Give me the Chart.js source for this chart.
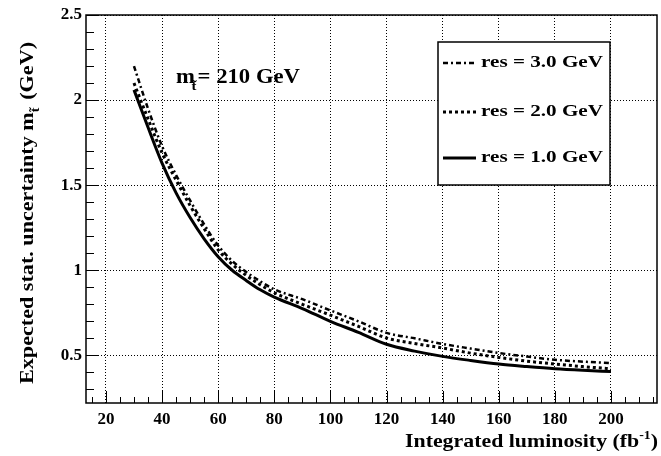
<!DOCTYPE html>
<html>
<head>
<title>Expected stat. uncertainty vs integrated luminosity</title>
<script src="https://cdn.jsdelivr.net/npm/chart.js"></script>
<style>
  html, body { margin: 0; padding: 0; background: #fff; }
  #chart { display: block; }
</style>
</head>
<body>
<canvas id="chart" width="661" height="456"></canvas>
<script>
// values (fb^-1 , GeV)
const lumi = [30, 35, 40, 45, 50, 55, 60, 65, 70, 75, 80, 90, 100, 110, 120, 130, 140, 150, 160, 170, 180, 190, 200];
const res1 = [2.06, 1.84, 1.63, 1.455, 1.31, 1.185, 1.08, 1.00, 0.94, 0.885, 0.842, 0.775, 0.70, 0.635, 0.565, 0.525, 0.494, 0.47, 0.449, 0.434, 0.421, 0.412, 0.405];
const res2 = [2.10, 1.89, 1.69, 1.53, 1.38, 1.245, 1.12, 1.035, 0.97, 0.915, 0.868, 0.80, 0.736, 0.67, 0.602, 0.57, 0.543, 0.513, 0.488, 0.466, 0.449, 0.434, 0.421];
const res3 = [2.20, 1.95, 1.73, 1.56, 1.41, 1.27, 1.145, 1.055, 0.99, 0.935, 0.888, 0.83, 0.764, 0.70, 0.632, 0.60, 0.567, 0.54, 0.514, 0.493, 0.474, 0.463, 0.455];
const seriesNames = ['res = 1.0 GeV', 'res = 2.0 GeV', 'res = 3.0 GeV'];

const xTickValues = [20, 40, 60, 80, 100, 120, 140, 160, 180, 200];
const yTickValues = [0.5, 1, 1.5, 2, 2.5];

const FONT = '"Liberation Serif", "Times New Roman", serif';
const pts = ys => lumi.map((x, i) => ({ x: x, y: ys[i] }));

// draws a row of text pieces (for sub/superscripts), stretched a bit wider like the original
function drawRuns(ctx, runs, x, y, o) {
  ctx.save();
  ctx.translate(x, y);
  if (o.rotate) ctx.rotate(o.rotate);
  const widths = runs.map(r => {
    ctx.font = 'bold ' + r.s + 'px ' + FONT;
    return ctx.measureText(r.t).width + (r.dx || 0);
  });
  const w = widths.reduce((a, b) => a + b, 0);
  const sx = o.width ? o.width / w : 1.2;
  ctx.scale(sx, 1);
  let cx = o.align === 'right' ? -w : 0;
  ctx.fillStyle = '#000';
  ctx.textBaseline = o.baseline || 'alphabetic';
  runs.forEach((r, i) => {
    ctx.font = 'bold ' + r.s + 'px ' + FONT;
    ctx.fillText(r.t, cx + (r.dx || 0), r.dy || 0);
    cx += widths[i];
  });
  ctx.restore();
}

const decorations = {
  id: 'decorations',
  afterDatasetsDraw(chart) {
    const { ctx, chartArea: a, scales: { x, y } } = chart;
    ctx.save();
    ctx.strokeStyle = '#000';
    ctx.lineWidth = 1;
    ctx.setLineDash([]);
    // inward ticks like the original
    ctx.beginPath();
    for (let v = 15; v <= 215; v += 5) {
      const px = Math.round(x.getPixelForValue(v)) + 0.5;
      ctx.moveTo(px, a.bottom);
      ctx.lineTo(px, a.bottom - (v % 20 === 0 ? 12 : 6));
    }
    for (let i = 3; i <= 25; i++) {
      const py = Math.round(y.getPixelForValue(i / 10)) + 0.5;
      ctx.moveTo(a.left, py);
      ctx.lineTo(a.left + (i % 5 === 0 ? 13 : 8), py);
    }
    ctx.stroke();
    ctx.lineWidth = 1.5;
    ctx.strokeRect(a.left, a.top, a.right - a.left, a.bottom - a.top);

    // legend box
    const box = { l: 438, t: 42, r: 610, b: 185 };
    ctx.fillStyle = '#fff';
    ctx.fillRect(box.l, box.t, box.r - box.l, box.b - box.t);
    ctx.strokeRect(box.l, box.t, box.r - box.l, box.b - box.t);
    const rows = [{ ds: 2, y: 63 }, { ds: 1, y: 112 }, { ds: 0, y: 158 }];
    rows.forEach(row => {
      const d = chart.data.datasets[row.ds];
      ctx.save();
      ctx.lineWidth = d.borderWidth;
      ctx.setLineDash(d.borderDash || []);
      ctx.beginPath();
      ctx.moveTo(443, row.y);
      ctx.lineTo(476, row.y);
      ctx.stroke();
      ctx.restore();
      drawRuns(ctx, [{ t: d.label, s: 17 }], 481, row.y, { baseline: 'middle', width: 122 });
    });

    // m(stop) = 210 GeV
    drawRuns(ctx, [
      { t: 'm', s: 20 },
      { t: 't\u0303', s: 13, dy: 7, dx: -3 },
      { t: '= 210 GeV', s: 20, dx: 1 }
    ], 176, 83, { width: 124 });

    // axis titles
    drawRuns(ctx, [
      { t: 'Integrated luminosity (fb', s: 19 },
      { t: '-1', s: 12, dy: -8 },
      { t: ')', s: 19 }
    ], 658, 447, { align: 'right', width: 253 });
    drawRuns(ctx, [
      { t: 'Expected stat. uncertainty m', s: 19 },
      { t: 't\u0303', s: 12, dy: 6 },
      { t: ' (GeV)', s: 19, dx: 2 }
    ], 33, 384, { rotate: -Math.PI / 2, width: 342 });
    ctx.restore();
  }
};

const tickFont = { family: FONT, size: 17, weight: 'bold' };

new Chart(document.getElementById('chart'), {
  type: 'line',
  data: {
    datasets: [
      { label: seriesNames[0], data: pts(res1), borderColor: '#000', borderWidth: 3, borderDash: [] },
      { label: seriesNames[1], data: pts(res2), borderColor: '#000', borderWidth: 3, borderDash: [3, 3] },
      { label: seriesNames[2], data: pts(res3), borderColor: '#000', borderWidth: 2.5, borderDash: [5, 3, 2, 3] }
    ]
  },
  options: {
    responsive: false,
    animation: false,
    devicePixelRatio: 1,
    layout: { padding: { top: 15, right: 4, left: 0, bottom: 0 } },
    elements: { point: { radius: 0 }, line: { cubicInterpolationMode: 'monotone', fill: false } },
    plugins: { legend: { display: false }, tooltip: { enabled: false } },
    scales: {
      x: {
        type: 'linear',
        min: 12.9,
        max: 216.4,
        afterBuildTicks: s => { s.ticks = xTickValues.map(v => ({ value: v })); },
        afterFit: s => { s.height = 53; },
        grid: { color: '#000', lineWidth: 1, drawTicks: false },
        border: { display: false, dash: [1, 2] },
        ticks: { font: tickFont, color: '#000', padding: 6, maxRotation: 0, autoSkip: false, callback: v => String(v) }
      },
      y: {
        type: 'linear',
        min: 0.22,
        max: 2.5,
        afterBuildTicks: s => { s.ticks = yTickValues.map(v => ({ value: v })); },
        afterFit: s => { s.width = 86; },
        grid: { color: '#000', lineWidth: 1, drawTicks: false },
        border: { display: false, dash: [1, 2] },
        ticks: { font: tickFont, color: '#000', padding: 4, autoSkip: false, callback: v => String(v) }
      }
    }
  },
  plugins: [decorations]
});
</script>
</body>
</html>
